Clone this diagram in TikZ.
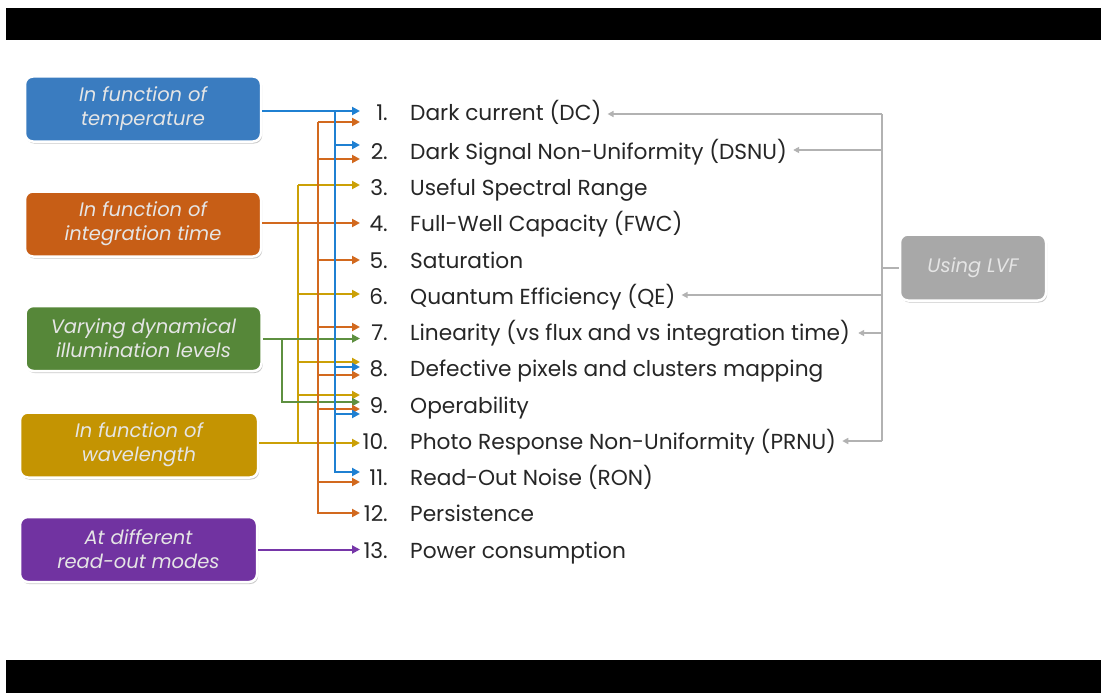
\documentclass[tikz,border=0pt]{standalone}
\usepackage{fontspec}
\setmainfont{Poppins}
\usetikzlibrary{arrows.meta,shadows,calc}
\definecolor{cBlueBox}{HTML}{3A7CC0}
\definecolor{cOrBox}{HTML}{C75E16}
\definecolor{cGrBox}{HTML}{568739}
\definecolor{cYeBox}{HTML}{C49402}
\definecolor{cPuBox}{HTML}{7133A1}
\definecolor{cGrayBox}{HTML}{A8A8A8}
\definecolor{cBlueLn}{HTML}{1F80D2}
\definecolor{cOrLn}{HTML}{D2691E}
\definecolor{cYeLn}{HTML}{CBA006}
\definecolor{cGrLn}{HTML}{5E9040}
\definecolor{cPuLn}{HTML}{7636A8}
\definecolor{cGrayLn}{HTML}{B2B2B2}
\definecolor{cTxt}{HTML}{262626}
\tikzset{
  catbox/.style={rounded corners=8pt, draw=white, line width=2.5pt,
    minimum width=236pt, minimum height=65pt, align=center, inner sep=2pt,
    text=white!90!black, font=\fontsize{19.5}{24}\selectfont\itshape,
    drop shadow={shadow xshift=1.2pt, shadow yshift=-2pt, opacity=0.35, fill=black!60}},
  ln/.style={line width=2pt},
  tip/.style={-{Triangle[length=8pt,width=8pt]}},
  grayln/.style={line width=2pt, draw=cGrayLn},
  graytip/.style={-{Triangle[length=6pt,width=6pt]}},
  itemtxt/.style={inner sep=0pt, text=cTxt, font=\fontsize{21.7}{24}\selectfont},
}
\begin{document}
\begin{tikzpicture}[x=1pt,y=-1pt]
\useasboundingbox (0,0) rectangle (1103,693);
\fill[white] (0,0) rectangle (1103,693);
\fill[black] (6,8) rectangle (1101,40);
\fill[black] (6,660) rectangle (1101,693);

% category boxes
\node[catbox, fill=cBlueBox] (temp) at (143,109) {In function of\\temperature};
\node[catbox, fill=cOrBox] (integ) at (143,224) {In function of\\integration time};
\node[catbox, fill=cGrBox] (illum) at (143.5,338.5) {Varying dynamical\\illumination levels};
\node[catbox, fill=cYeBox, minimum width=238pt] (wave) at (139,445) {In function of\\wavelength};
\node[catbox, fill=cPuBox, minimum width=237pt] (modes) at (138.5,549.5) {At different\\read-out modes};
\node[catbox, fill=cGrayBox, minimum width=146pt, minimum height=66pt] (lvf) at (973,267.5) {Using LVF};

% list items
\foreach \i/\y/\t in {
  1/111/{Dark current (DC)},
  2/150/{Dark Signal Non-Uniformity (DSNU)},
  3/186/{Useful Spectral Range},
  4/222/{Full-Well Capacity (FWC)},
  5/259/{Saturation},
  6/295/{Quantum Efficiency (QE)},
  7/331/{Linearity (vs flux and vs integration time)},
  8/367/{Defective pixels and clusters mapping},
  9/404/{Operability},
  10/440/{Photo Response Non-Uniformity (PRNU)},
  11/476/{Read-Out Noise (RON)},
  12/512/{Persistence},
  13/549/{Power consumption}}{
  \node[itemtxt, anchor=base east] (n\i) at (388,\y+9) {\i.};
  \node[itemtxt, anchor=base west] (t\i) at (410,\y+9) {\t};
}

\coordinate (tipx) at (360,0);
\coordinate (gbus) at (882,0);

% yellow
\draw[ln, draw=cYeLn] (298,185) -- (298,443);
\foreach \y in {185,294,362,395}{\draw[ln, draw=cYeLn, tip] (298,\y) -- (360,\y);}
\draw[ln, draw=cYeLn, tip] (wave.east |- 0,443) -- (360,443);
% green
\draw[ln, draw=cGrLn, tip] (illum.east) -- (illum.east -| tipx);
\draw[ln, draw=cGrLn, tip] (282,338.5) -- (282,402) -- (360,402);
% orange
\draw[ln, draw=cOrLn, tip] (318,122) -- (360,122);
\draw[ln, draw=cOrLn, tip] (318,122) -- (318,513) -- (360,513);
\foreach \y in {159,260,327,375,409,482}{\draw[ln, draw=cOrLn, tip] (318,\y) -- (360,\y);}
\draw[ln, draw=cOrLn, tip] (integ.east |- 0,223) -- (360,223);
% blue
\draw[ln, draw=cBlueLn, tip] (temp.east |- 0,111) -- (360,111);
\draw[ln, draw=cBlueLn, tip] (335,111) -- (335,472) -- (360,472);
\foreach \y in {145,367,414}{\draw[ln, draw=cBlueLn, tip] (335,\y) -- (360,\y);}
% purple
\draw[ln, draw=cPuLn, tip] (modes.east) -- (modes.east -| tipx);

% gray LVF connectors
\draw[grayln] (882,114) -- (882,441);
\draw[grayln] (lvf.west) -- (lvf.west -| gbus);
\draw[grayln, graytip] (882,114) -- ($(t1.east |- 0,114)+(6,0)$);
\draw[grayln, graytip] (882,150) -- ($(t2.east |- 0,150)+(6,0)$);
\draw[grayln, graytip] (882,295) -- ($(t6.east |- 0,295)+(6,0)$);
\draw[grayln, graytip] (882,333) -- ($(t7.east |- 0,333)+(8,0)$);
\draw[grayln, graytip] (882,441) -- ($(t10.east |- 0,441)+(6,0)$);
\end{tikzpicture}
\end{document}
